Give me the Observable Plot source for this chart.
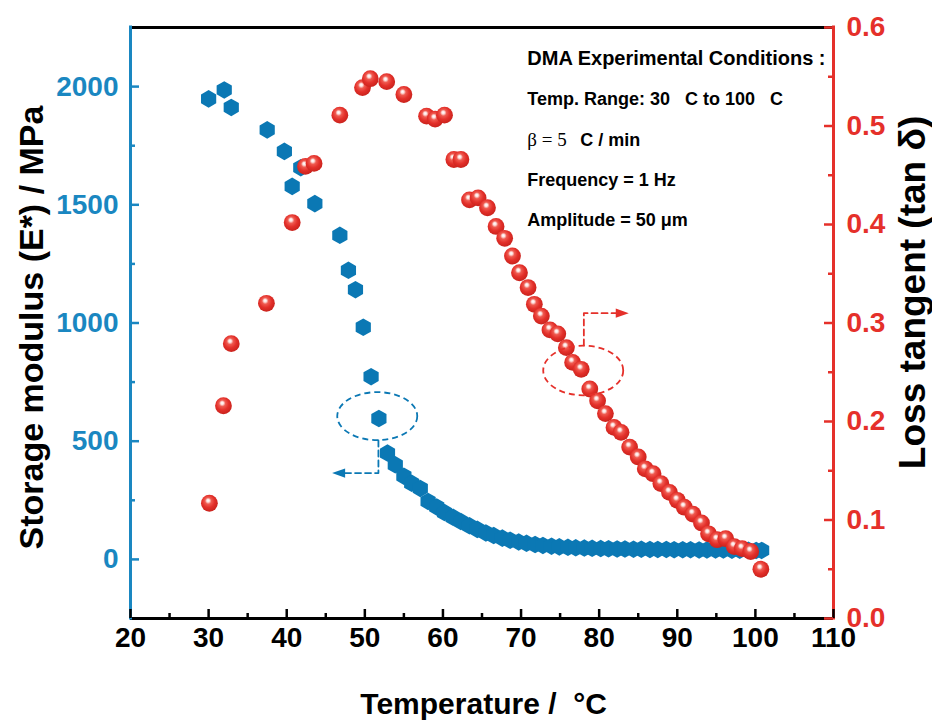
<!DOCTYPE html>
<html><head><meta charset="utf-8">
<script src="https://cdn.jsdelivr.net/npm/d3@7"></script>
<script src="https://cdn.jsdelivr.net/npm/@observablehq/plot@0.6"></script>
<style>
body{margin:0;background:#fff;}
#chart svg{display:block;}
</style></head><body><div id="chart"></div>
<script>
// ---- data: storage modulus E* (MPa) ----
const tempE = [30.0, 32.0, 32.9, 37.5, 39.7, 41.8, 40.7, 43.6, 46.8, 47.9, 48.8, 49.8, 50.8, 51.8,
  52.9, 53.9, 55.0, 56.0, 57.1, 58.1, 59.2, 60.2, 61.3, 62.3, 63.4, 64.4, 65.5, 66.5, 67.6, 68.6,
  69.7, 70.7, 71.8, 72.8, 73.9, 74.9, 76.0, 77.0, 78.1, 79.1, 80.2, 81.2, 82.3, 83.3, 84.4, 85.4,
  86.5, 87.5, 88.6, 89.6, 90.7, 91.7, 92.8, 93.8, 94.9, 95.9, 97.0, 98.0, 99.1, 100.1, 100.8];
const modulusE = [1948, 1986, 1912, 1817, 1726, 1657, 1578, 1505, 1371, 1223, 1141, 982, 773, 596,
  450, 400, 352, 322, 300, 245, 222, 198, 178, 160, 142, 127, 112, 101, 90, 81,
  74, 68, 63, 59, 56, 53, 51, 49, 48, 47, 46, 45, 44, 44, 43, 43,
  42, 42, 42, 41, 41, 41, 40, 40, 40, 40, 39, 39, 39, 38, 38];

// ---- data: loss tangent tan(delta) ----
const tempTan = [30.1, 31.9, 32.9, 37.4, 40.7, 42.4, 43.5, 46.8, 49.7, 50.7, 52.8, 55.0, 57.9, 59.0,
  60.2, 61.4, 62.3, 63.4, 64.5, 65.7, 66.8, 67.9, 68.9, 69.8, 70.9, 71.7, 72.6, 73.7, 74.7, 75.8,
  76.6, 77.7, 78.8, 79.8, 80.8, 81.9, 82.8, 83.9, 85.0, 85.9, 86.9, 87.9, 89.0, 90.0, 90.9, 92.0,
  93.1, 94.0, 95.1, 96.2, 97.3, 98.3, 99.4, 100.7];
const lossTan = [0.117, 0.216, 0.279, 0.320, 0.402, 0.459, 0.462, 0.511, 0.539, 0.548, 0.545, 0.532, 0.510, 0.507,
  0.511, 0.466, 0.466, 0.425, 0.427, 0.417, 0.398, 0.386, 0.368, 0.351, 0.336, 0.319, 0.307, 0.293, 0.289, 0.275,
  0.260, 0.253, 0.233, 0.221, 0.208, 0.194, 0.189, 0.174, 0.164, 0.152, 0.147, 0.137, 0.128, 0.120, 0.113, 0.106,
  0.097, 0.086, 0.080, 0.081, 0.073, 0.071, 0.068, 0.050];

// ---- ticks ----
const xTicks = [20, 30, 40, 50, 60, 70, 80, 90, 100, 110];
const xMinorTicks = [25, 35, 45, 55, 65, 75, 85, 95, 105];
const eTicks = [0, 500, 1000, 1500, 2000];
const eMinorTicks = [250, 750, 1250, 1750];
const tanTicks = [0.0, 0.1, 0.2, 0.3, 0.4, 0.5, 0.6];
const tanMinorTicks = [0.05, 0.15, 0.25, 0.35, 0.45, 0.55];
const xDomain = [20, 110];
const eDomain = [-250, 2250];
const tanDomain = [0, 0.6];

// ---- titles & notes ----
const xTitle = "Temperature /\u00a0\u00a0°C";
const eTitle = "Storage modulus (E*) / MPa";
const tanTitle = "Loss tangent (tan δ)";
const noteHeader = "DMA Experimental Conditions :";
const noteLines = ["Temp. Range: 30\u00a0\u00a0\u00a0C to 100\u00a0\u00a0\u00a0C", "", "Frequency = 1 Hz", "Amplitude = 50 μm"];
const noteBeta = "β = 5";
const noteBetaUnit = "C / min";
// annotation anchors (data units)
const noteX = 70.8;
const noteHeaderY = 0.5618;
const noteLineY = [0.5213, 0.4802, 0.4391, 0.3980];
const blueLoop = {T: 51.59, E: 606};
const bluePath = [{T: 51.74, E: 503}, {T: 51.74, E: 365}, {T: 47.3, E: 365}];
const blueTip = {T: 45.81, E: 365};
const redLoop = {T: 77.96, tan: 0.2518};
const redPath = [{T: 78.04, tan: 0.2772}, {T: 78.04, tan: 0.310}, {T: 82.3, tan: 0.310}];
const redTip = {T: 83.79, tan: 0.310};
const titlePos = {xT: 65.2, xY: -0.087, eT: 7.35, eY: 0.2954, tanT: 120.2, tanY: 0.331};

// ---- helpers ----
const toTan = d3.scaleLinear(eDomain, tanDomain);
const BLUE = "#0b78b4", BLUE_AX = "#1a87c1", RED = "#e5302a", FONT = "Liberation Sans, Arial, sans-serif";
const W = 932, H = 726, ML = 130, MR = 99, MT = 27, MB = 108;
const FW = W - ML - MR, FH = H - MT - MB;

function ellipseSymbol(ratio) {
  return {draw(c, size) {
    const rx = Math.sqrt(size / Math.PI), ry = rx * ratio, k = 0.5523;
    c.moveTo(rx, 0);
    c.bezierCurveTo(rx, ry * k, rx * k, ry, 0, ry);
    c.bezierCurveTo(-rx * k, ry, -rx, ry * k, -rx, 0);
    c.bezierCurveTo(-rx, -ry * k, -rx * k, -ry, 0, -ry);
    c.bezierCurveTo(rx * k, -ry, rx, -ry * k, rx, 0);
    c.closePath();
  }};
}
function arrowSymbol(dir) {
  return {draw(c, size) {
    const L = Math.sqrt(size / Math.PI), h = L * 0.36;
    c.moveTo(0, 0); c.lineTo(-dir * L, -h); c.lineTo(-dir * L, h); c.closePath();
  }};
}

const blueData = tempE.map((T, i) => ({T, E: modulusE[i]}));
const redData = tempTan.map((T, i) => ({T, v: lossTan[i]}));
const txt = {fontFamily: FONT, fontWeight: "bold"};

const chart = Plot.plot({
  width: W, height: H,
  marginLeft: ML, marginRight: MR, marginTop: MT, marginBottom: MB,
  x: {domain: xDomain, axis: null},
  y: {domain: tanDomain, axis: null},
  style: {fontFamily: FONT, background: "white", overflow: "visible"},
  marks: [
    // frame
    Plot.ruleY([tanDomain[1]], {stroke: "black", strokeWidth: 3}),
    Plot.ruleY([tanDomain[0]], {stroke: "black", strokeWidth: 3}),
    Plot.ruleX([xDomain[0]], {stroke: BLUE_AX, strokeWidth: 3, insetBottom: -1.5, insetTop: -1.5}),
    Plot.ruleX([xDomain[1]], {stroke: RED, strokeWidth: 3, insetBottom: -1.5, insetTop: -1.5}),
    // ticks
    Plot.tickX(xTicks, {x: d => d, stroke: "black", strokeWidth: 2.5, insetTop: FH - 9}),
    Plot.tickX(xMinorTicks, {x: d => d, stroke: "black", strokeWidth: 2.5, insetTop: FH - 5}),
    Plot.tickY(eTicks, {y: d => toTan(d), stroke: BLUE_AX, strokeWidth: 2.5, insetRight: FW - 9}),
    Plot.tickY(eMinorTicks, {y: d => toTan(d), stroke: BLUE_AX, strokeWidth: 2.5, insetRight: FW - 5}),
    Plot.tickY(tanTicks, {y: d => d, stroke: RED, strokeWidth: 2.5, insetLeft: FW - 9}),
    Plot.tickY(tanMinorTicks, {y: d => d, stroke: RED, strokeWidth: 2.5, insetLeft: FW - 5}),
    // tick labels
    Plot.text(xTicks, {x: d => d, text: d => String(d), frameAnchor: "bottom", dy: 28, fontSize: 28, fill: "black", ...txt}),
    Plot.text(eTicks, {y: d => toTan(d), text: d => String(d), frameAnchor: "left", textAnchor: "end", dx: -12, fontSize: 28, fill: BLUE_AX, ...txt}),
    Plot.text(tanTicks, {y: d => d, text: d => d.toFixed(1), frameAnchor: "right", textAnchor: "start", dx: 13, fontSize: 28, fill: RED, ...txt}),
    // axis titles
    Plot.text([xTitle], {x: titlePos.xT, y: titlePos.xY, text: d => d, fontSize: 30, fill: "black", ...txt}),
    Plot.text([eTitle], {x: titlePos.eT, y: titlePos.eY, text: d => d, rotate: -90, fontSize: 34, fill: "black", ...txt}),
    Plot.text([tanTitle], {x: titlePos.tanT, y: titlePos.tanY, text: d => d, rotate: -90, fontSize: 37, fill: "black", ...txt}),
    // data
    Plot.dot(blueData, {x: "T", y: d => toTan(d.E), symbol: "hexagon", r: 7.6, fill: BLUE, stroke: "none"}),
    Plot.dot(redData, {x: "T", y: "v", r: 8.4, fill: "url(#ballGrad)", stroke: "none"}),
    // annotations
    Plot.dot([blueLoop], {x: "T", y: d => toTan(d.E), symbol: ellipseSymbol(0.6), r: 40, fill: "none", stroke: BLUE, strokeWidth: 1.8, strokeDasharray: "6,4"}),
    Plot.line(bluePath, {x: "T", y: d => toTan(d.E), stroke: BLUE, strokeWidth: 1.8, strokeDasharray: "6,4"}),
    Plot.dot([blueTip], {x: "T", y: d => toTan(d.E), symbol: arrowSymbol(-1), r: 13, fill: BLUE, stroke: "none"}),
    Plot.dot([redLoop], {x: "T", y: "tan", symbol: ellipseSymbol(0.62), r: 40, fill: "none", stroke: RED, strokeWidth: 1.8, strokeDasharray: "6,4"}),
    Plot.line(redPath, {x: "T", y: "tan", stroke: RED, strokeWidth: 1.8, strokeDasharray: "6,4"}),
    Plot.dot([redTip], {x: "T", y: "tan", symbol: arrowSymbol(1), r: 13, fill: RED, stroke: "none"}),
    // notes
    Plot.text([noteHeader], {x: noteX, y: noteHeaderY, text: d => d, textAnchor: "start", lineAnchor: "bottom", fontSize: 20, fill: "black", ...txt}),
    Plot.text(noteLines, {x: noteX, y: (d, i) => noteLineY[i], text: d => d, textAnchor: "start", lineAnchor: "bottom", fontSize: 18, fill: "black", ...txt}),
    Plot.text([noteBeta], {x: noteX, y: noteLineY[1], text: d => d, textAnchor: "start", lineAnchor: "bottom", fontSize: 19, fill: "black", fontFamily: "Liberation Serif, Times New Roman, serif"}),
    Plot.text([noteBetaUnit], {x: noteX, y: noteLineY[1], text: d => d, textAnchor: "start", lineAnchor: "bottom", dx: 53, fontSize: 18, fill: "black", ...txt})
  ]
});

// radial gradient for the 3D red balls
const defs = d3.select(chart).insert("defs", ":first-child");
const g = defs.append("radialGradient").attr("id", "ballGrad")
  .attr("cx", 0.45).attr("cy", 0.42).attr("r", 0.6).attr("fx", 0.42).attr("fy", 0.33);
[[0, "#ffffff"], [0.14, "#fde3e0"], [0.32, "#ef5a50"], [0.62, "#e3302a"], [1, "#c7211b"]]
  .forEach(([o, c]) => g.append("stop").attr("offset", o).attr("stop-color", c));

document.getElementById("chart").appendChild(chart);
</script></body></html>
